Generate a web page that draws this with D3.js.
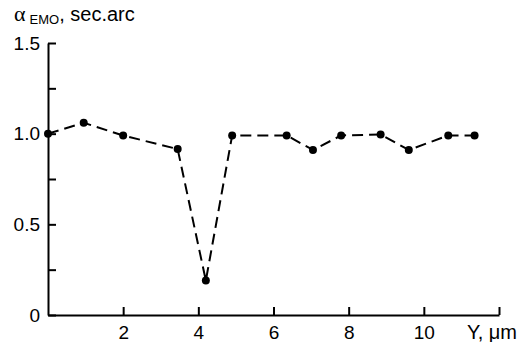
<!DOCTYPE html>
<html>
<head>
<meta charset="utf-8">
<script src="https://cdn.jsdelivr.net/npm/d3@7"></script>
<style>
  body { margin: 0; background: #fff; }
  text { font-family: "Liberation Sans", Arial, sans-serif; }
</style>
</head>
<body>
<script>
// Y position (um) and misorientation alpha_EMO (sec.arc)
const posY  = [0, 0.95, 2.0, 3.45, 4.2, 4.9, 6.35, 7.05, 7.8, 8.85, 9.6, 10.65, 11.35];
const alpha = [1.0, 1.06, 0.99, 0.915, 0.19, 0.99, 0.99, 0.91, 0.99, 0.995, 0.91, 0.99, 0.99];
const xTicks = [2, 4, 6, 8, 10, 12];
const yTicks = [0, 0.25, 0.5, 0.75, 1.0, 1.25, 1.5];
const yLabels = [0, 0.5, 1.0, 1.5];

const w = 522;
const h = 342;

const dataset = posY.map((d, i) => [d, alpha[i]]);

const xScale = d3.scaleLinear()
                 .domain([0, 12])
                 .range([48, 499]);

const yScale = d3.scaleLinear()
                 .domain([0, 1.5])
                 .range([315, 43]);

const svg = d3.select("body")
              .append("svg")
              .attr("width", w)
              .attr("height", h);

// axes, ticks pointing inwards
const xAxis = d3.axisBottom(xScale)
                .tickValues(xTicks)
                .tickSizeInner(-8)
                .tickSizeOuter(0)
                .tickPadding(11)
                .tickFormat((d) => d == 12 ? "" : d);

const yAxis = d3.axisLeft(yScale)
                .tickValues(yTicks)
                .tickSizeInner(-8)
                .tickSizeOuter(0)
                .tickPadding(8)
                .tickFormat((d) => yLabels.includes(d) ? (d == 0 ? "0" : d.toFixed(1)) : "");

const gx = svg.append("g")
   .attr("transform", "translate(0," + yScale(0) + ")")
   .call(xAxis);

const gy = svg.append("g")
   .attr("transform", "translate(" + xScale(0) + ",0)")
   .call(yAxis);

[gx, gy].forEach((g) => {
   g.selectAll("path, line").attr("stroke", "#000").attr("stroke-width", 2);
   g.selectAll("text")
    .attr("fill", "#000")
    .style("font-family", "'Liberation Sans', Arial, sans-serif")
    .style("font-size", "19px");
});

// dashed curve
const line = d3.line()
               .x((d) => xScale(d[0]))
               .y((d) => yScale(d[1]));

svg.append("path")
   .datum(dataset)
   .attr("d", line)
   .attr("fill", "none")
   .attr("stroke", "#000")
   .attr("stroke-width", 2)
   .attr("stroke-dasharray", "11,6");

svg.selectAll("circle")
   .data(dataset)
   .enter()
   .append("circle")
   .attr("cx", (d) => xScale(d[0]))
   .attr("cy", (d) => yScale(d[1]))
   .attr("r", 4)
   .attr("fill", "#000");

// axis titles
const title = svg.append("text")
   .attr("x", 14)
   .attr("y", 21)
   .attr("fill", "#000")
   .style("font-size", "20px");

title.append("tspan")
   .style("font-family", "'Liberation Serif', 'DejaVu Serif', serif")
   .style("font-size", "22px")
   .text("α");

title.append("tspan")
   .attr("dx", 4)
   .attr("dy", 3)
   .style("font-size", "13px")
   .text("EMO");

title.append("tspan")
   .attr("dy", -3)
   .text(", sec.arc");

svg.append("text")
   .attr("x", 517)
   .attr("y", 339)
   .attr("text-anchor", "end")
   .attr("fill", "#000")
   .style("font-size", "20px")
   .text("Y, μm");
</script>
</body>
</html>
